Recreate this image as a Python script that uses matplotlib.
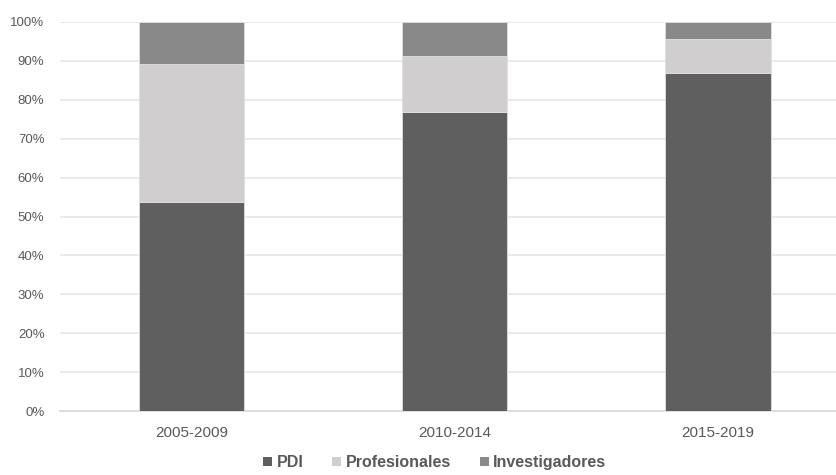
import matplotlib
matplotlib.use("Agg")
import matplotlib.pyplot as plt
from matplotlib.patches import Patch

periods = ["2005-2009", "2010-2014", "2015-2019"]
pdi = [53.7, 76.8, 87.0]
profesionales = [35.4, 14.5, 8.6]
investigadores = [10.9, 8.7, 4.4]
yticks = [0, 10, 20, 30, 40, 50, 60, 70, 80, 90, 100]

colors = {"PDI": "#5f5f5f", "Profesionales": "#d0cecf", "Investigadores": "#898989"}
text_color = "#595959"

plt.rcParams["font.family"] = ["Liberation Sans", "DejaVu Sans"]

fig = plt.figure(figsize=(8.36, 4.75), dpi=100)
ax = fig.add_axes([0.0715, 0.1347, 0.945, 0.819])

x = list(range(len(periods)))
w = 0.4
bottom2 = pdi
bottom3 = [a + b for a, b in zip(pdi, profesionales)]
ax.bar(x, pdi, w, color=colors["PDI"], edgecolor="#e0e0e0", linewidth=0.6, zorder=3)
ax.bar(x, profesionales, w, bottom=bottom2, color=colors["Profesionales"],
       edgecolor="#e0e0e0", linewidth=0.6, zorder=3)
ax.bar(x, investigadores, w, bottom=bottom3, color=colors["Investigadores"],
       edgecolor="#e0e0e0", linewidth=0.6, zorder=3)

ax.set_xlim(-0.5, 2.5)
ax.set_ylim(0, 100)
ax.set_yticks(yticks)
ax.set_yticklabels([f"{t}%" for t in yticks], fontsize=9.5, color=text_color)
ax.set_xticks(x)
ax.set_xticklabels(periods, fontsize=11, color=text_color)
ax.tick_params(axis="both", length=0)
ax.tick_params(axis="y", pad=11)
ax.tick_params(axis="x", pad=11)
ax.yaxis.grid(True, color="#e6e6e6", linewidth=1.2, zorder=0)
for s in ["top", "right", "left"]:
    ax.spines[s].set_visible(False)
ax.spines["bottom"].set_color("#d9d9d9")
ax.spines["bottom"].set_linewidth(1.2)

handles = [Patch(facecolor=colors[k], edgecolor="none", label=k) for k in colors]
leg = fig.legend(handles=handles, loc="center", bbox_to_anchor=(0.52, 0.026), ncol=3,
                 frameon=False, handlelength=0.55, handleheight=0.55, handletextpad=0.3,
                 columnspacing=1.8, prop={"weight": "bold", "size": 11.5})
for t in leg.get_texts():
    t.set_color(text_color)

fig.savefig("out.png", dpi=100)
